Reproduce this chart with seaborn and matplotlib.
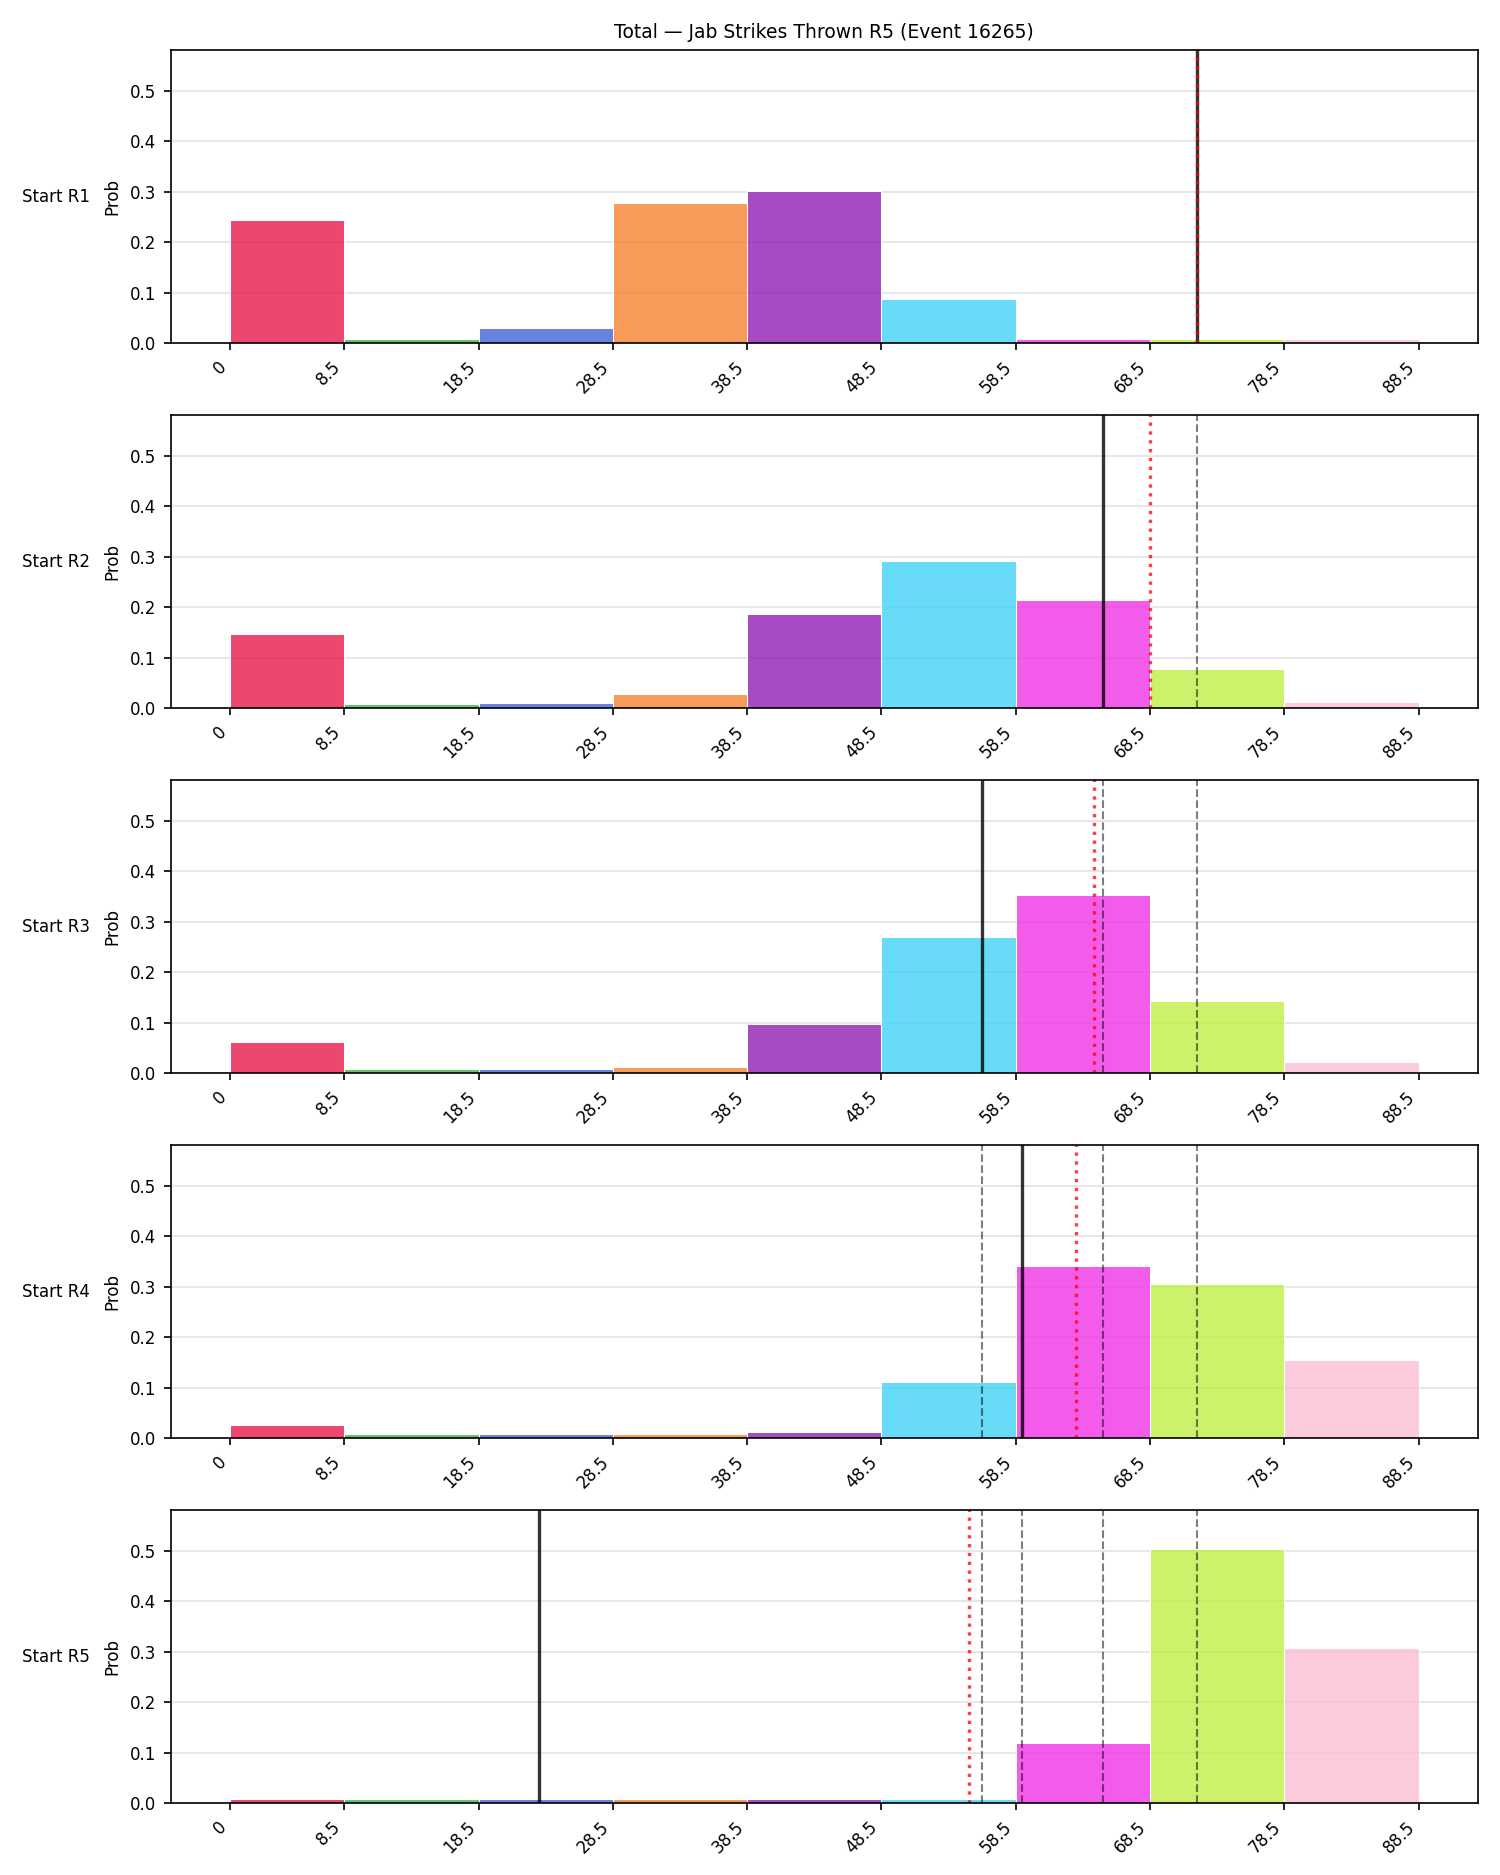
import numpy as np
import pandas as pd
import seaborn as sns
import matplotlib.pyplot as plt

# bin edges and labels of the x axis
edges = [0, 8.5, 18.5, 28.5, 38.5, 48.5, 58.5, 68.5, 78.5, 88.5]
tick_labels = ["0", "8.5", "18.5", "28.5", "38.5", "48.5", "58.5", "68.5", "78.5", "88.5"]
bin_names = ["0-8", "9-18", "19-28", "29-38", "39-48", "49-58", "59-68", "69-78", "79-88"]
bin_colors = ["#e6194B", "#3cb44b", "#4363d8", "#f58231", "#911eb4",
              "#42d4f4", "#f032e6", "#bfef45", "#fabed4"]

row_labels = ["Start R1", "Start R2", "Start R3", "Start R4", "Start R5"]

# probability per bin, one list per starting round
r1_probs = [0.244, 0.008, 0.031, 0.278, 0.302, 0.088, 0.008, 0.008, 0.008]
r2_probs = [0.147, 0.008, 0.010, 0.029, 0.187, 0.292, 0.215, 0.077, 0.012]
r3_probs = [0.062, 0.008, 0.008, 0.012, 0.097, 0.270, 0.352, 0.144, 0.023]
r4_probs = [0.027, 0.008, 0.008, 0.008, 0.012, 0.112, 0.342, 0.306, 0.155]
r5_probs = [0.008, 0.008, 0.008, 0.008, 0.008, 0.008, 0.120, 0.504, 0.308]
all_probs = [r1_probs, r2_probs, r3_probs, r4_probs, r5_probs]

# count so far (solid) and projected total (red dotted) at each start
current = [72, 65, 56, 59, 23]
projected = [72, 68.5, 64.3, 63.0, 55.0]

title = "Total \u2014 Jab Strikes Thrown R5 (Event 16265)"

centers = [(edges[i] + edges[i + 1]) / 2 for i in range(len(bin_names))]

fig, axes = plt.subplots(5, 1, figsize=(10, 12.5), dpi=150)
fig.subplots_adjust(left=0.1138, right=0.9853, top=0.9732, bottom=0.0382, hspace=0.245)

for i, ax in enumerate(axes):
    df = pd.DataFrame({"center": centers, "prob": all_probs[i], "bin": bin_names})
    sns.histplot(data=df, x="center", weights="prob", hue="bin", hue_order=bin_names,
                 palette=bin_colors, bins=edges, multiple="layer", alpha=0.8,
                 edgecolor="white", linewidth=0.5, legend=False, ax=ax)

    ax.grid(axis="y", color="#e3e3e3", linewidth=0.8)
    ax.set_axisbelow(True)

    for prev in current[:i]:
        ax.axvline(prev, color="k", linestyle="--", linewidth=1.0, alpha=0.5)
    ax.axvline(current[i], color="k", linewidth=1.6, alpha=0.8)
    ax.axvline(projected[i], color="red", linestyle=":", linewidth=1.6, alpha=0.75)

    ax.set_xlim(-4.425, 92.925)
    ax.set_ylim(0, 0.58)
    ax.set_yticks([0.0, 0.1, 0.2, 0.3, 0.4, 0.5])
    ax.set_xticks(edges)
    ax.set_xticklabels(tick_labels, rotation=45, ha="right")
    ax.tick_params(labelsize=8)
    ax.set_xlabel("")
    ax.set_ylabel("Prob", fontsize=8)
    ax.text(-0.062, 0.5, row_labels[i], transform=ax.transAxes,
            ha="right", va="center", fontsize=8)

axes[0].set_title(title, fontsize=9)

plt.savefig("out.png")
